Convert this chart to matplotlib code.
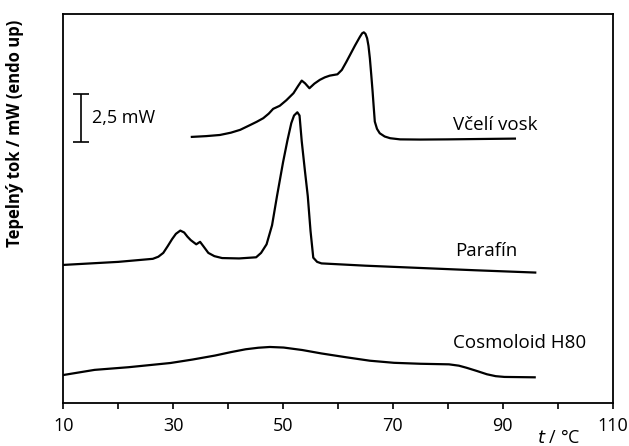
import matplotlib
matplotlib.use("Agg")
import matplotlib.pyplot as plt

plt.rcParams['font.family'] = ['Open Sans', 'DejaVu Sans']

# Včelí vosk (beeswax), shifted up
wax_t = [33.4, 36.0, 38.5, 40.5, 42.2, 44.0, 45.2, 46.4, 47.4, 48.2, 49.4, 50.6,
         51.9, 52.7, 53.4, 54.0, 54.8, 55.7, 56.7, 57.6, 58.5, 59.9, 60.7, 61.5,
         62.2, 63.1, 64.0, 64.4, 64.7, 65.0, 65.3, 65.55, 65.8, 66.05, 66.3, 66.5,
         66.7, 67.1, 67.6, 68.5, 69.5, 71.3, 75.0, 80.0, 86.0, 92.2]
wax_q = [13.93, 13.97, 14.03, 14.15, 14.30, 14.55, 14.72, 14.91, 15.15, 15.40, 15.56, 15.85,
         16.22, 16.58, 16.88, 16.74, 16.48, 16.72, 16.92, 17.05, 17.14, 17.21, 17.44, 17.85,
         18.23, 18.72, 19.18, 19.36, 19.41, 19.33, 19.10, 18.70, 18.05, 17.20, 16.30, 15.50,
         14.73, 14.35, 14.12, 13.95, 13.86, 13.80, 13.79, 13.80, 13.82, 13.84]

# Parafín
par_t = [10.0, 15.0, 20.0, 26.3, 27.3, 28.2, 29.0, 29.8, 30.5, 31.3, 32.0, 32.6,
         33.2, 34.2, 34.9, 35.5, 36.4, 37.5, 38.9, 42.0, 45.1, 46.0, 47.0, 48.0,
         48.9, 50.0, 50.8, 51.5, 52.0, 52.6, 53.0, 53.4, 54.0, 54.5, 55.0, 55.5,
         56.2, 57.0, 65.0, 75.0, 85.0, 95.9]
par_q = [7.22, 7.30, 7.38, 7.54, 7.65, 7.85, 8.20, 8.57, 8.85, 9.02, 8.92, 8.70,
         8.52, 8.30, 8.43, 8.20, 7.85, 7.68, 7.58, 7.56, 7.62, 7.85, 8.30, 9.30,
         10.83, 12.60, 13.75, 14.65, 15.05, 15.22, 15.05, 13.70, 12.10, 10.83, 9.00, 7.60,
         7.38, 7.30, 7.18, 7.06, 6.94, 6.82]

# Cosmoloid H80
cos_t = [10.0, 15.7, 21.9, 29.5, 33.5, 37.6, 40.5, 43.2, 45.5, 47.6, 50.1, 53.5,
         57.0, 61.5, 65.8, 70.2, 75.0, 80.2, 82.0, 83.4, 85.3, 87.1, 88.7, 90.3, 95.8]
cos_q = [1.45, 1.72, 1.86, 2.08, 2.26, 2.47, 2.65, 2.80, 2.88, 2.92, 2.89, 2.76,
         2.58, 2.38, 2.20, 2.09, 2.04, 2.01, 1.94, 1.83, 1.66, 1.49, 1.39, 1.35, 1.33]

labels = ['Včelí vosk', 'Parafín', 'Cosmoloid H80']
label_pos = [(80.9, 14.55), (81.3, 7.95), (80.9, 3.13)]

# scale bar 2,5 mW
bar_t = 13.2
bar_low = 13.68
bar_len = 2.5

fig = plt.figure(figsize=(6.29, 4.46), dpi=100)
ax = fig.add_axes([0.1006, 0.0971, 0.8735, 0.8715])

ax.plot(wax_t, wax_q, color='black', lw=1.6)
ax.plot(par_t, par_q, color='black', lw=1.6)
ax.plot(cos_t, cos_q, color='black', lw=1.6)

for lab, (x, y) in zip(labels, label_pos):
    ax.text(x, y, lab, fontsize=13.5, va='center', ha='left')

ax.errorbar([bar_t], [bar_low + bar_len / 2], yerr=bar_len / 2, color='black',
            lw=1.2, capsize=6, capthick=1.2)
ax.text(bar_t + 2.0, bar_low + bar_len / 2, '2,5 mW', fontsize=13, va='center', ha='left')

ax.set_xlim(10, 110)
ax.set_ylim(0, 20.37)
ax.set_xticks([10, 30, 50, 70, 90, 110])
ax.set_xticks([20, 40, 60, 80, 100], minor=True)
ax.set_yticks([])
ax.tick_params(axis='x', which='both', direction='out', length=4, width=1.2,
               labelsize=13, pad=6)
for s in ax.spines.values():
    s.set_linewidth(1.3)

ax.set_ylabel('Tepelný tok / mW (endo up)', fontsize=12, fontweight='bold')
ax.yaxis.set_label_coords(-0.0715, 0.694)

fig.text(0.889, 0.018, r'$t$ / °C', fontsize=13, ha='center', va='center')

fig.savefig('out.png', dpi=100)
